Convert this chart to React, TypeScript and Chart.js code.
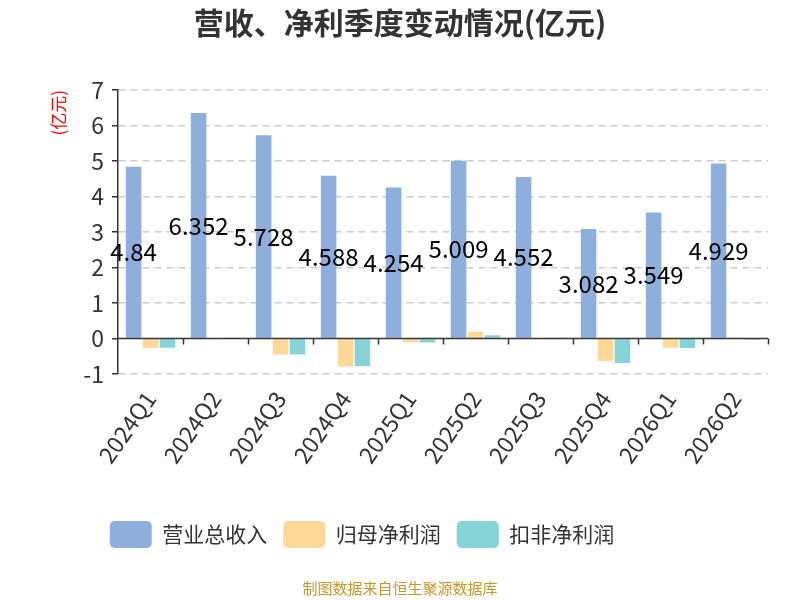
import { useEffect, useRef } from 'react';
import { Chart, registerables } from 'chart.js';

Chart.register(...registerables);

// quarterly data (亿元)
const quarters = ['2024Q1', '2024Q2', '2024Q3', '2024Q4', '2025Q1', '2025Q2', '2025Q3', '2025Q4', '2026Q1', '2026Q2'];
const revenue = [4.84, 6.352, 5.728, 4.588, 4.254, 5.009, 4.552, 3.082, 3.549, 4.929];
const netProfit = [-0.27, 0.02, -0.45, -0.79, -0.1, 0.19, 0.02, -0.63, -0.26, 0.03];
const deductedProfit = [-0.26, 0.01, -0.45, -0.78, -0.11, 0.09, 0.01, -0.69, -0.27, -0.04];
const yMin = -1;
const yMax = 7;

const FONT = '"Noto Sans CJK SC", "Liberation Sans", sans-serif';

const decorPlugin = {
  id: 'decor',
  afterLayout(chart: any) {
    // the legend row sits a bit left of centre
    if (chart.legend) {
      chart.legend.left -= 22;
      chart.legend.right -= 22;
    }
  },
  afterDatasetsDraw(chart: any) {
    const { ctx, chartArea } = chart;
    const y0 = chart.scales.y.getPixelForValue(0);
    const step = (chartArea.right - chartArea.left) / quarters.length;

    // zero axis line with category ticks
    ctx.save();
    ctx.strokeStyle = '#333';
    ctx.lineWidth = 1.5;
    ctx.beginPath();
    ctx.moveTo(chartArea.left, y0);
    ctx.lineTo(chartArea.right, y0);
    for (let i = 1; i <= quarters.length; i++) {
      const x = Math.round(chartArea.left + i * step) + 0.5;
      ctx.moveTo(x, y0);
      ctx.lineTo(x, y0 + 6);
    }
    ctx.stroke();

    // revenue value labels in the middle of each bar
    const meta = chart.getDatasetMeta(0);
    ctx.fillStyle = '#000';
    ctx.font = '24px ' + FONT;
    ctx.textAlign = 'center';
    ctx.textBaseline = 'middle';
    meta.data.forEach((bar: any, i: number) => {
      ctx.fillText(String(revenue[i]), bar.x, (bar.y + bar.base) / 2);
    });
    ctx.restore();
  },
  afterDraw(chart: any) {
    const { ctx, width } = chart;
    ctx.save();
    ctx.textAlign = 'center';
    ctx.textBaseline = 'middle';
    ctx.fillStyle = '#333';
    ctx.font = 'bold 30px ' + FONT;
    ctx.fillText('营收、净利季度变动情况(亿元)', width / 2, 23);
    ctx.fillStyle = '#c8962e';
    ctx.font = '15px ' + FONT;
    ctx.fillText('制图数据来自恒生聚源数据库', width / 2, 588);
    ctx.restore();
  },
};

export default function App() {
  const chartRef = useRef<HTMLCanvasElement>(null);
  const chartInstance = useRef<Chart | null>(null);

  useEffect(() => {
    document.body.style.margin = '0';
    if (!chartRef.current) return;
    if (chartInstance.current) {
      chartInstance.current.destroy();
    }
    const ctx = chartRef.current.getContext('2d');
    if (!ctx) return;

    chartInstance.current = new Chart(ctx, {
      type: 'bar',
      data: {
        labels: quarters,
        datasets: [
          {
            label: '营业总收入',
            data: revenue,
            backgroundColor: '#8eafdc',
            borderWidth: 0,
          },
          {
            label: '归母净利润',
            data: netProfit,
            backgroundColor: '#ffd898',
            borderWidth: 0,
          },
          {
            label: '扣非净利润',
            data: deductedProfit,
            backgroundColor: '#86d4d8',
            borderWidth: 0,
          },
        ],
      },
      options: {
        responsive: false,
        devicePixelRatio: 1,
        animation: false,
        layout: {
          padding: { top: 90, right: 32, bottom: 42, left: 0 },
        },
        datasets: {
          bar: {
            categoryPercentage: 0.78,
            barPercentage: 0.92,
          },
        },
        plugins: {
          title: { display: false },
          tooltip: { enabled: false },
          legend: {
            position: 'bottom',
            labels: {
              boxWidth: 42,
              boxHeight: 27,
              useBorderRadius: true,
              borderRadius: 5,
              padding: 16,
              color: '#333',
              font: { size: 21, family: FONT },
            },
          },
        },
        scales: {
          x: {
            afterFit: (scale: any) => {
              scale.height = 131;
            },
            grid: { display: false },
            border: { display: false },
            ticks: {
              color: '#333',
              font: { size: 23, family: FONT },
              minRotation: 55,
              maxRotation: 55,
              padding: 4,
            },
          },
          y: {
            min: yMin,
            max: yMax,
            afterFit: (scale: any) => {
              scale.width = 118;
            },
            title: {
              display: true,
              text: '(亿元)',
              color: '#ff0000',
              align: 'end',
              font: { size: 17, family: FONT },
              padding: { top: 48, bottom: 0 },
            },
            border: { display: true, color: '#333', width: 1.5, dash: [7, 5] },
            grid: {
              color: (c: any) => (c.tick && c.tick.value === 0 ? 'rgba(0,0,0,0)' : '#cccccc'),
              tickColor: '#333',
              tickLength: 6,
              tickBorderDash: [],
              lineWidth: 1.5,
            },
            ticks: {
              stepSize: 1,
              color: '#333',
              padding: 8,
              font: { size: 23, family: FONT },
            },
          },
        },
      },
      plugins: [decorPlugin],
    });

    return () => {
      if (chartInstance.current) {
        chartInstance.current.destroy();
        chartInstance.current = null;
      }
    };
  }, []);

  return (
    <div style={{ position: 'absolute', left: 0, top: 0, width: 800, height: 600 }}>
      <canvas ref={chartRef} width={800} height={600}></canvas>
    </div>
  );
}
